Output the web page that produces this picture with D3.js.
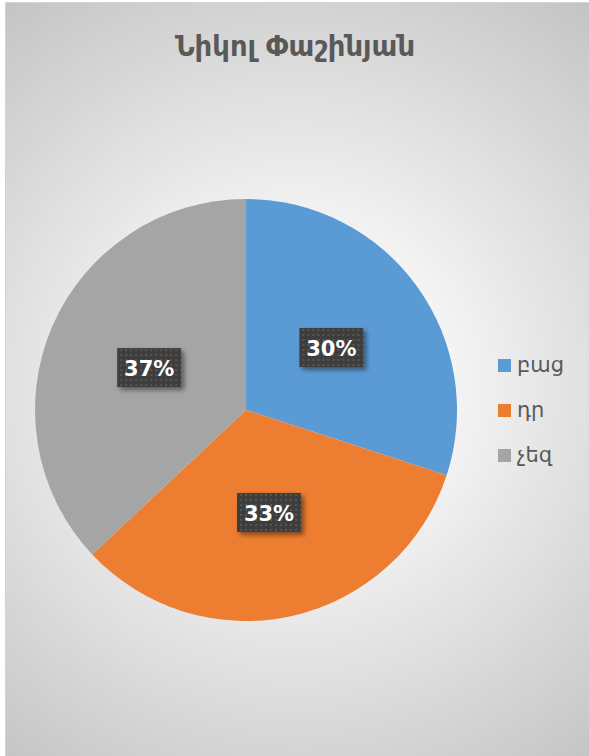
<!DOCTYPE html>
<html>
<head>
<meta charset="utf-8">
<script src="https://cdn.jsdelivr.net/npm/d3@7"></script>
<style>
  html, body { margin: 0; padding: 0; background: #ffffff; }
  svg { display: block; }
  text { font-family: "Segoe UI", "DejaVu Sans", sans-serif; }
</style>
</head>
<body>
<svg id="chart" width="589" height="756"></svg>
<script>
// Poll result data
const title = "Նիկոլ Փաշինյան";
const categories = ["բաց", "դր", "չեզ"];
const values = [30, 33, 37];
const colors = ["#5b9bd5", "#ed7d31", "#a5a5a5"];

const W = 589, H = 756;
const svg = d3.select("#chart");
const defs = svg.append("defs");

// Radial backdrop: bright in the middle, grey towards the corners
const bg = defs.append("radialGradient")
  .attr("id", "bgGrad")
  .attr("gradientUnits", "userSpaceOnUse")
  .attr("cx", 296).attr("cy", 385).attr("r", 480);
bg.append("stop").attr("offset", 0.17).attr("stop-color", "#ffffff");
bg.append("stop").attr("offset", 1).attr("stop-color", "#c4c4c4");

// Dotted fill for the value labels
const pat = defs.append("pattern")
  .attr("id", "dots")
  .attr("patternUnits", "userSpaceOnUse")
  .attr("width", 5).attr("height", 5);
pat.append("rect").attr("width", 5).attr("height", 5).attr("fill", "#3e3e3e");
pat.append("rect").attr("x", 1).attr("y", 1).attr("width", 2).attr("height", 2).attr("fill", "#555555");

// Soft drop shadow behind the labels
const sh = defs.append("filter").attr("id", "shadow")
  .attr("x", "-30%").attr("y", "-30%").attr("width", "160%").attr("height", "160%");
sh.append("feDropShadow")
  .attr("dx", 3).attr("dy", 3).attr("stdDeviation", 2.5)
  .attr("flood-color", "#000").attr("flood-opacity", 0.45);

// Chart area
svg.append("rect")
  .attr("x", 5.5).attr("y", 2.5)
  .attr("width", W + 10).attr("height", H + 10)
  .attr("fill", "url(#bgGrad)")
  .attr("stroke", "#d4d4d4").attr("stroke-width", 1);

// Title
svg.append("text")
  .attr("x", 295).attr("y", 56)
  .attr("text-anchor", "middle")
  .attr("font-size", 27.5)
  .attr("font-weight", "bold")
  .attr("fill", "#595959")
  .text(title);

// Pie
const cx = 246, cy = 410, R = 211;
const data = categories.map((c, i) => ({ cat: c, value: values[i], color: colors[i] }));
const pie = d3.pie().value(d => d.value).sort(null);
const arcs = pie(data);
const arc = d3.arc().innerRadius(0).outerRadius(R);
const labelArc = d3.arc().innerRadius(R * 0.5).outerRadius(R * 0.5);

const g = svg.append("g").attr("transform", `translate(${cx},${cy})`);
g.selectAll("path.slice")
  .data(arcs)
  .join("path")
  .attr("class", "slice")
  .attr("d", arc)
  .attr("fill", d => d.data.color);

// Value labels
const total = d3.sum(values);
const lbl = g.selectAll("g.lbl")
  .data(arcs)
  .join("g")
  .attr("class", "lbl")
  .attr("transform", d => {
    const [x, y] = labelArc.centroid(d);
    return `translate(${x},${y})`;
  });
lbl.append("rect")
  .attr("x", -32).attr("y", -20)
  .attr("width", 64).attr("height", 39)
  .attr("fill", "url(#dots)")
  .attr("filter", "url(#shadow)");
lbl.append("text")
  .attr("text-anchor", "middle")
  .attr("dy", "0.36em")
  .attr("font-size", 21)
  .attr("font-weight", "bold")
  .attr("fill", "#ffffff")
  .text(d => Math.round(d.data.value / total * 100) + "%");

// Legend
const legend = svg.append("g").attr("transform", "translate(498,359)");
const rowH = 45;
const items = legend.selectAll("g.item")
  .data(data)
  .join("g")
  .attr("class", "item")
  .attr("transform", (d, i) => `translate(0,${i * rowH})`);
items.append("rect")
  .attr("width", 13).attr("height", 13)
  .attr("fill", d => d.color);
items.append("text")
  .attr("x", 19).attr("y", 13)
  .attr("font-size", 21)
  .attr("fill", "#595959")
  .text(d => d.cat);
</script>
</body>
</html>
